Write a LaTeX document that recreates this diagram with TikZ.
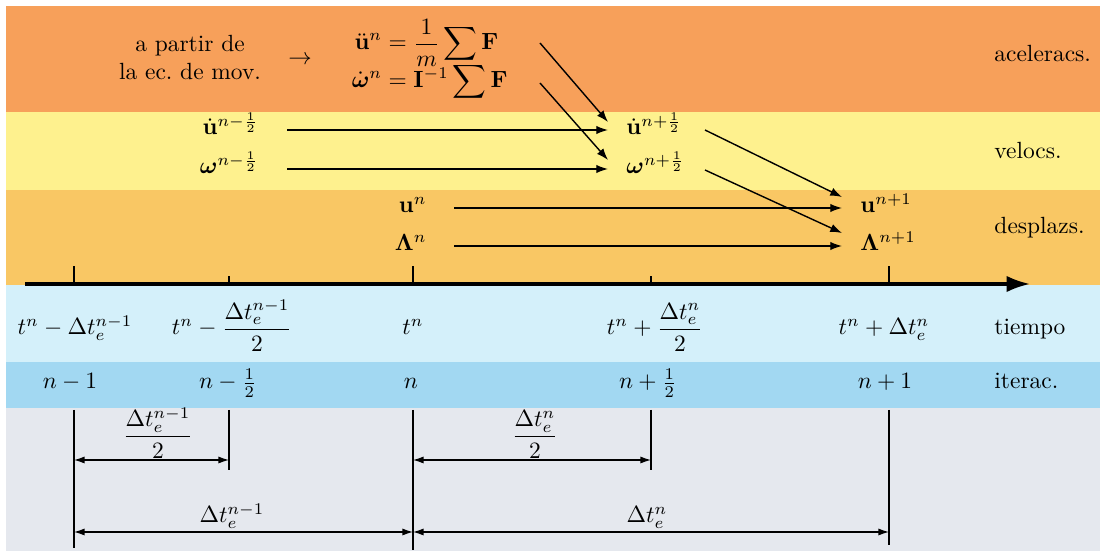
\documentclass[tikz,border=0pt]{standalone}
\usepackage{amsmath,bm,mathtools}
\usetikzlibrary{arrows.meta,calc}
\definecolor{cAcc}{RGB}{247,160,90}
\definecolor{cVel}{RGB}{254,241,142}
\definecolor{cDes}{RGB}{249,199,100}
\definecolor{cTim}{RGB}{212,240,250}
\definecolor{cIt}{RGB}{162,216,242}
\definecolor{cBot}{RGB}{229,232,238}
\begin{document}
\begin{tikzpicture}[x=0.015cm,y=-0.015cm,
  lbl/.style={inner sep=0pt},
  arr/.style={line width=0.6pt,-{Latex[length=5pt,width=3.6pt]}},
  dimarr/.style={line width=0.5pt,{Latex[length=4.5pt,width=3pt]}-{Latex[length=4.5pt,width=3pt]}},
  thin/.style={line width=0.5pt},
  tick/.style={line width=1.2pt}]
\useasboundingbox (0,0) rectangle (1100,551);
\fill[white] (0,0) rectangle (1100,551);
\fill[cAcc] (6,6) rectangle (1100,112);
\fill[cVel] (6,112) rectangle (1100,190);
\fill[cDes] (6,190) rectangle (1100,285);
\fill[cTim] (6,285) rectangle (1100,362);
\fill[cIt] (6,362) rectangle (1100,408);
\fill[cBot] (6,408) rectangle (1100,551);

% right labels
\node[lbl,anchor=base west] (lacc) at (994,62) {aceleracs.};
\node[lbl,anchor=base west] (lvel) at (994,159) {velocs.};
\node[lbl,anchor=base west] (ldes) at (994,234) {desplazs.};
\node[lbl,anchor=base west] (ltim) at (994,335) {tiempo};
\node[lbl,anchor=base west] (lite) at (994,389) {iterac.};

% top band
\node[lbl,anchor=base] (ap1) at (190,52) {a partir de};
\node[lbl,anchor=base] (ap2) at (190,80) {la ec.\ de mov.};
\node[lbl] (rar) at (300,60) {$\rightarrow$};
\node[lbl,anchor=base west] (eqa) at (413,50) {$\displaystyle\mathllap{\ddot{\mathbf u}^n={}}\frac{1}{m}\sum\mathbf F$};
\node[lbl,anchor=base west] (eqw) at (413,88) {$\displaystyle\mathllap{\dot{\bm\omega}^n={}}\mathbf I^{-1}\sum\mathbf F$};

% velocities
\node[lbl,anchor=base east] (udm) at (259,135) {$\dot{\mathbf u}^{n-\frac12}$};
\node[lbl,anchor=base east] (wm) at (259,174) {$\bm\omega^{n-\frac12}$};
\node[lbl,anchor=base west] (udp) at (626,135) {$\dot{\mathbf u}^{n+\frac12}$};
\node[lbl,anchor=base west] (wp) at (626,174) {$\bm\omega^{n+\frac12}$};

% displacements
\node[lbl,anchor=base east] (un) at (427,213) {$\mathbf u^n$};
\node[lbl,anchor=base east] (Ln) at (427,251) {$\bm\Lambda^n$};
\node[lbl,anchor=base west] (unp) at (860,213) {$\mathbf u^{n+1}$};
\node[lbl,anchor=base west] (Lnp) at (860,251) {$\bm\Lambda^{n+1}$};

% arrows
\draw[arr] ($(eqa.base west)+(127,-7)$) -- ($(udp.base west)+(-18,-13)$);
\draw[arr] ($(eqw.base west)+(127,-5)$) -- ($(wp.base west)+(-18,-14)$);
\draw[arr] ($(udm.base east)+(28,-5)$) -- ($(udp.base west)+(-18,-5)$);
\draw[arr] ($(wm.base east)+(28,-5)$) -- ($(wp.base west)+(-18,-5)$);
\draw[arr] ($(udp.base west)+(79,-5)$) -- ($(unp.base west)+(-18,-16)$);
\draw[arr] ($(wp.base west)+(79,-4)$) -- ($(Lnp.base west)+(-18,-18)$);
\draw[arr] ($(un.base east)+(27,-5)$) -- ($(unp.base west)+(-18,-5)$);
\draw[arr] ($(Ln.base east)+(27,-5)$) -- ($(Lnp.base west)+(-18,-5)$);

% time axis
\coordinate (ax0) at (25,284);
\coordinate (ax1) at (1030,284);
\draw[line width=1.3pt,-{Latex[length=10pt,width=7pt]}] (ax0) -- (ax1);
\coordinate (k0) at (74,284);
\coordinate (k1) at (229,284);
\coordinate (k2) at (413,284);
\coordinate (k3) at (651,284);
\coordinate (k4) at (889,284);
\draw[tick] (k0) -- ++(0,-18);
\draw[tick] (k1) -- ++(0,-8);
\draw[tick] (k2) -- ++(0,-18);
\draw[tick] (k3) -- ++(0,-8);
\draw[tick] (k4) -- ++(0,-18);

% time labels
\node[lbl,anchor=base] (t0) at (75,335) {$t^n-\Delta t_e^{n-1}$};
\node[lbl,anchor=base] (t1) at (232,335) {$t^n-\dfrac{\Delta t_e^{n-1}}{2}$};
\node[lbl,anchor=base] (t2) at (413,335) {$t^n$};
\node[lbl,anchor=base] (t3) at (655,335) {$t^n+\dfrac{\Delta t_e^{n}}{2}$};
\node[lbl,anchor=base] (t4) at (884,335) {$t^n+\Delta t_e^{n}$};

% iteration labels
\node[lbl,anchor=base] (i0) at (70,389) {$n-1$};
\node[lbl,anchor=base] (i1) at (228,389) {$n-\frac12$};
\node[lbl,anchor=base] (i2) at (411,389) {$n$};
\node[lbl,anchor=base] (i3) at (648,389) {$n+\frac12$};
\node[lbl,anchor=base] (i4) at (885,389) {$n+1$};

% bottom dimensions
\coordinate (v0) at (74,410);
\coordinate (v1) at (229,410);
\coordinate (v2) at (413,410);
\coordinate (v3) at (651,410);
\coordinate (v4) at (889,410);
\draw[thin] (v0) -- ++(0,138);
\draw[thin] (v1) -- ++(0,60);
\draw[thin] (v2) -- ++(0,140);
\draw[thin] (v3) -- ++(0,60);
\draw[thin] (v4) -- ++(0,135);
\coordinate (h0) at (74,460);
\coordinate (h1) at (229,460);
\coordinate (h2) at (413,460);
\coordinate (h3) at (651,460);
\coordinate (f0) at (74,532);
\coordinate (f2) at (413,532);
\coordinate (f4) at (889,532);
\draw[dimarr] (h0) -- (h1);
\draw[dimarr] (h2) -- (h3);
\draw[dimarr] (f0) -- (f2);
\draw[dimarr] (f2) -- (f4);
\node[lbl,anchor=south] (d0) at (158,459) {$\dfrac{\Delta t_e^{n-1}}{2}$};
\node[lbl,anchor=south] (d1) at (535,459) {$\dfrac{\Delta t_e^{n}}{2}$};
\node[lbl,anchor=south] (d2) at (232,529) {$\Delta t_e^{n-1}$};
\node[lbl,anchor=south] (d3) at (647,529) {$\Delta t_e^{n}$};
\end{tikzpicture}
\end{document}
